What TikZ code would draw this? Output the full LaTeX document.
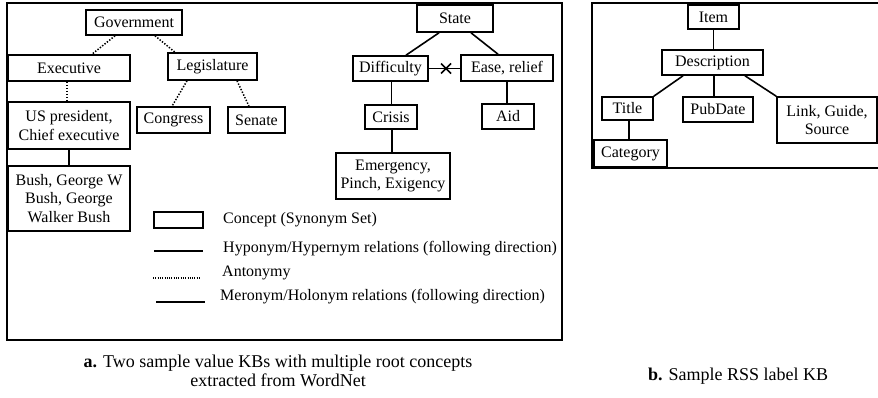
\documentclass[tikz,border=0pt]{standalone}
\usepackage{fontspec}
\setmainfont{Liberation Serif}
\usetikzlibrary{calc}
\begin{document}
\begin{tikzpicture}[x=1pt,y=-1pt,
  concept/.style={draw, line width=1.6pt, inner sep=0pt, align=center,
    font=\fontsize{16}{18.5}\selectfont},
  hypo/.style={line width=1.6pt},
  anto/.style={line width=1.5pt, dash pattern=on 1.4pt off 1.6pt},
  frame/.style={line width=2.2pt},
  legtext/.style={anchor=west, inner sep=0pt, font=\fontsize{16}{18.5}\selectfont},
  caption/.style={align=center, inner sep=0pt, font=\fontsize{18}{19.5}\selectfont}]
\useasboundingbox (0,0) rectangle (878,397);
\fill[white] (0,0) rectangle (878,397);

% panel frames
\draw[frame] (7,3) rectangle (562,340);
\draw[frame] (880,3) -- (592,3) -- (592,168) -- (880,168);

% --- Government tree ---
\node[concept, minimum width=96pt, minimum height=25pt] (gov) at (134,22.5) {Government};
\node[concept, minimum width=122pt, minimum height=26pt] (exec) at (69,68) {Executive};
\node[concept, minimum width=89pt, minimum height=27pt] (leg) at (212.5,66.5) {Legislature};
\node[concept, minimum width=122pt, minimum height=47pt] (pres) at (69,125.5) {US president,\\Chief executive};
\node[concept, minimum width=73pt, minimum height=26pt] (congress) at (173.5,120) {Congress};
\node[concept, minimum width=57pt, minimum height=26pt] (senate) at (256.5,120) {Senate};
\node[concept, minimum width=122pt, minimum height=65pt] (bush) at (69,198.5) {Bush, George W\\Bush, George\\Walker Bush};

\draw[anto] ([xshift=-19pt]gov.south) -- ([xshift=23pt]exec.north);
\draw[anto] ([xshift=21pt]gov.south) -- ([xshift=-37.5pt]leg.north);
\draw[anto] ([xshift=-2pt]exec.south) -- ([xshift=-2pt]pres.north);
\draw[anto] ([xshift=-25.5pt]leg.south) -- ([xshift=-1.5pt]congress.north);
\draw[anto] ([xshift=24.5pt]leg.south) -- ([xshift=-7.5pt]senate.north);
\draw[hypo] (pres.south) -- (bush.north);

% --- State tree ---
\node[concept, minimum width=76pt, minimum height=27pt] (state) at (455,18.5) {State};
\node[concept, minimum width=75pt, minimum height=25pt] (diff) at (390.5,68.5) {Difficulty};
\node[concept, minimum width=92pt, minimum height=26pt] (ease) at (507,68) {Ease, relief};
\node[concept, minimum width=52pt, minimum height=24pt] (crisis) at (391,117) {Crisis};
\node[concept, minimum width=52pt, minimum height=25pt] (aid) at (508,116.5) {Aid};
\node[concept, minimum width=114pt, minimum height=46pt] (emerg) at (393,176) {Emergency,\\Pinch, Exigency};

\draw[hypo] ([xshift=-16pt]state.south) -- ([xshift=15.5pt]diff.north);
\draw[hypo] ([xshift=16pt]state.south) -- ([xshift=-9pt]ease.north);
\draw[hypo] (diff.east) -- (diff.east -| ease.west) coordinate[pos=0.55] (xmark);
\draw[line width=1.6pt] ($(xmark)+(-5,-5)$) -- ($(xmark)+(5,5)$)
                        ($(xmark)+(-5,5)$) -- ($(xmark)+(5,-5)$);
\draw[hypo] ([xshift=1pt]diff.south) -- ([xshift=1pt]diff.south |- crisis.north);
\draw[hypo] ([xshift=1pt]crisis.south) -- ([xshift=1pt]crisis.south |- emerg.north);
\draw[hypo] (ease.south) -- (ease.south |- aid.north);

% --- legend ---
\node[draw, line width=1.6pt, minimum width=49pt, minimum height=16pt, inner sep=0pt] (legbox) at (178.5,220) {};
\node[legtext] (legc) at (223,220) {Concept (Synonym Set)};
\node[legtext] (legh) at (223,249) {Hyponym/Hypernym relations (following direction)};
\node[legtext] (lega) at (222,273) {Antonymy};
\node[legtext] (legm) at (220,297) {Meronym/Holonym relations (following direction)};
\coordinate (lh1) at (154,251); \coordinate (lh2) at (203,251);
\coordinate (la1) at (153,278); \coordinate (la2) at (200,278);
\coordinate (lm1) at (156,302); \coordinate (lm2) at (205,302);
\draw[hypo] (lh1) -- (lh2);
\draw[line width=1.3pt, dash pattern=on 1pt off 1.3pt] (la1) -- (la2);
\draw[hypo] (lm1) -- (lm2);

% --- RSS label tree ---
\node[concept, minimum width=51pt, minimum height=24pt] (item) at (713.5,17) {Item};
\node[concept, minimum width=101pt, minimum height=25pt] (desc) at (712.5,62.5) {Description};
\node[concept, minimum width=51pt, minimum height=23pt] (title) at (627.5,108.5) {Title};
\node[concept, minimum width=70pt, minimum height=25pt] (pub) at (718,109.5) {PubDate};
\node[concept, minimum width=100pt, minimum height=46pt] (link) at (827,120) {Link, Guide,\\Source};
\node[concept, minimum width=73pt, minimum height=27pt] (cat) at (630.5,153.5) {Category};

\draw[hypo] (item.south) -- (item.south |- desc.north);
\draw[hypo] ([xshift=-29.5pt]desc.south) -- (title.north east);
\draw[hypo] ([xshift=1.5pt]desc.south) -- ([xshift=1.5pt]desc.south |- pub.north);
\draw[hypo] ([xshift=32.5pt]desc.south) -- (link.north west);
\draw[hypo] ([xshift=1.5pt]title.south) -- ([xshift=1.5pt]title.south |- cat.north);

% --- captions ---
\node[caption] (capa) at (278,371) {\textbf{a.} Two sample value KBs with multiple root concepts\\extracted from WordNet};
\node[caption] (capb) at (738,376) {\textbf{b.} Sample RSS label KB};
\end{tikzpicture}
\end{document}
